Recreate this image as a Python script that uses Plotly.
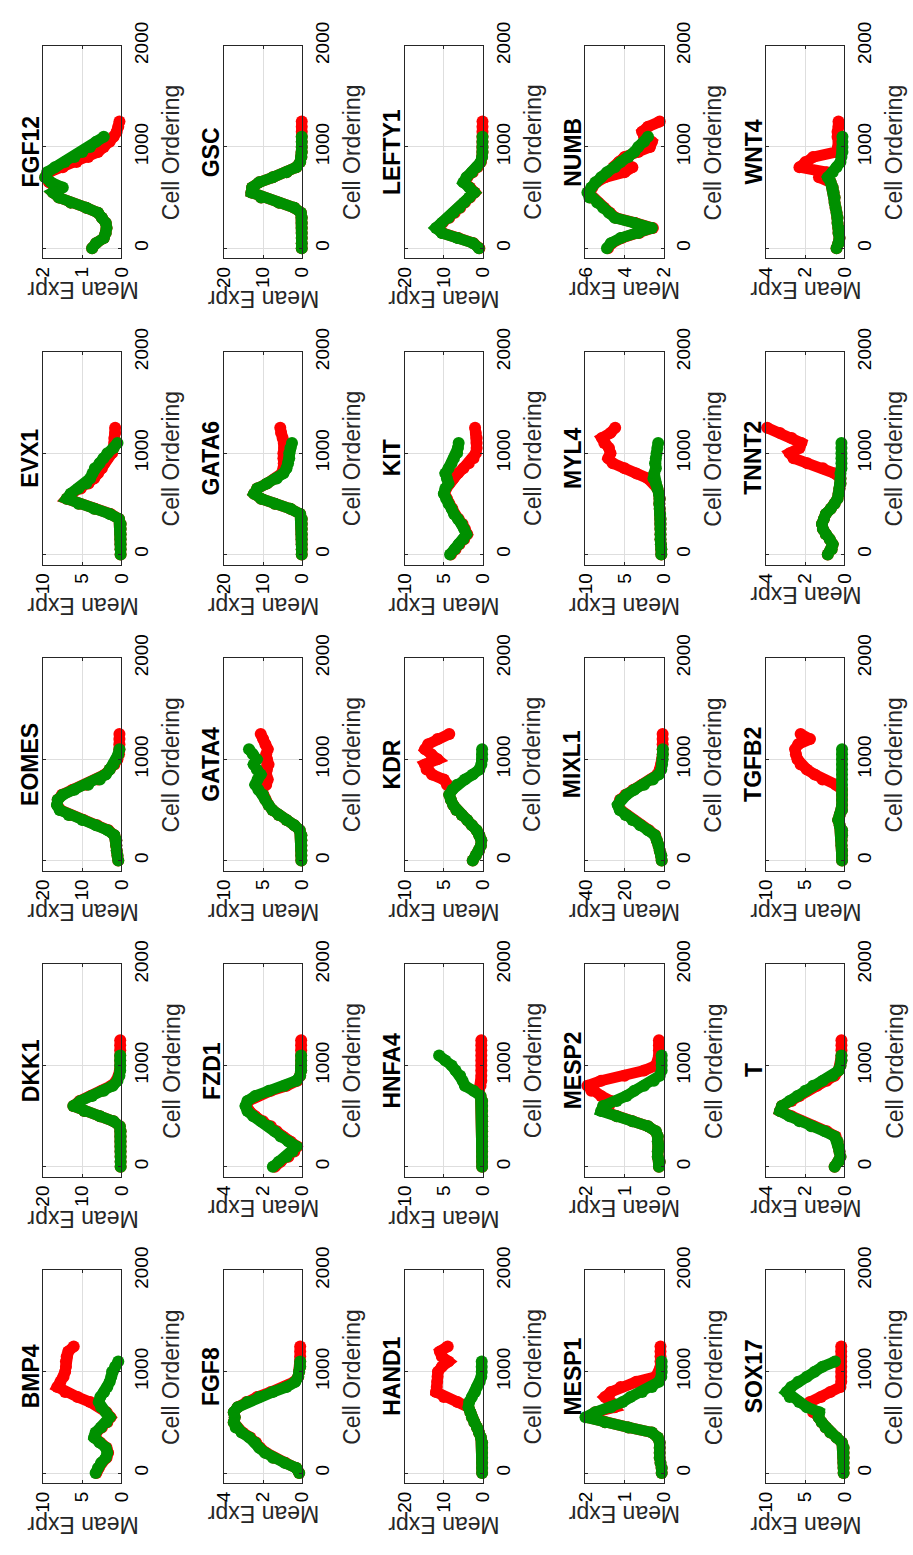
import plotly.graph_objects as go

W, H = 913, 1555

GENES = ["BMP4", "DKK1", "EOMES", "EVX1", "FGF12",
         "FGF8", "FZD1", "GATA4", "GATA6", "GSC",
         "HAND1", "HNFA4", "KDR", "KIT", "LEFTY1",
         "MESP1", "MESP2", "MIXL1", "MYL4", "NUMB",
         "SOX17", "T", "TGFB2", "TNNT2", "WNT4"]

Y_MIN = [0, 0, 0, 0, 0,
         0, 0, 0, 0, 0,
         0, 0, 0, 0, 0,
         0, 0, 0, 0, 2,
         0, 0, 0, 0, 0]
Y_MAX = [10, 20, 20, 10, 2,
         4, 4, 10, 20, 20,
         20, 10, 10, 10, 20,
         2, 2, 40, 10, 6,
         10, 4, 10, 4, 4]

CELL_TICKS = [0, 1000, 2000]

RED_POS = [0, 50, 100, 150, 200, 250, 300, 350, 400, 450, 500, 550, 600,
           650, 700, 750, 800, 850, 900, 950, 1000, 1050, 1100, 1150, 1200, 1250]
GREEN_POS = [0, 50, 100, 150, 200, 250, 300, 350, 400, 450, 500, 550, 600,
             650, 700, 750, 800, 850, 900, 950, 1000, 1050, 1100]

BMP4_R = [3.2, 2.9, 2.5, 1.9, 1.7, 1.9, 2.7, 3.4, 3.2, 2.5, 1.8, 1.4, 1.9, 2.7,
          4.0, 5.6, 7.2, 8.2, 7.8, 7.4, 7.2, 7.1, 7.1, 7.0, 6.8, 6.1]
BMP4_G = [3.3, 3.0, 2.6, 2.0, 1.8, 2.0, 2.8, 3.5, 3.3, 2.6, 1.9, 1.5, 2.0, 2.6,
          2.9, 2.7, 2.2, 1.8, 1.5, 1.3, 1.2, 0.8, 0.4]
DKK1_R = [0.2, 0.2, 0.2, 0.2, 0.2, 0.2, 0.2, 0.2, 0.4, 2.0, 5.5, 9.5, 12.3, 10.7,
          7.8, 5.0, 2.6, 1.3, 0.6, 0.4, 0.3, 0.3, 0.3, 0.3, 0.3, 0.3]
DKK1_G = [0.2, 0.2, 0.2, 0.2, 0.2, 0.2, 0.2, 0.2, 0.4, 2.0, 5.5, 9.5, 12.3, 10.5,
          7.5, 4.5, 2.2, 1.0, 0.5, 0.3, 0.3, 0.3, 0.3]
EOMES_R = [0.8, 1.0, 1.2, 1.3, 1.3, 1.8, 3.3, 6.2, 9.7, 13.2, 15.6, 16.4, 16.3,
           15.2, 12.5, 9.0, 6.0, 4.2, 3.0, 1.8, 1.0, 0.6, 0.5, 0.5, 0.5, 0.5]
EOMES_G = [0.8, 1.0, 1.2, 1.3, 1.3, 1.8, 3.5, 6.5, 10.0, 13.5, 15.8, 16.5, 16.3,
           15.0, 12.0, 8.5, 5.5, 4.0, 3.0, 2.0, 1.3, 0.8, 0.5]
EVX1_R = [0.1, 0.1, 0.1, 0.1, 0.1, 0.1, 0.1, 0.3, 1.4, 3.4, 5.4, 7.0, 6.4, 5.2,
          4.2, 3.5, 3.0, 2.5, 2.2, 1.8, 1.2, 1.0, 0.9, 0.9, 0.8, 0.8]
EVX1_G = [0.1, 0.1, 0.1, 0.1, 0.1, 0.1, 0.1, 0.3, 1.5, 3.5, 5.5, 7.0, 6.5, 5.5,
          4.5, 4.0, 3.7, 3.4, 2.8, 2.3, 1.8, 1.0, 0.5]
FGF12_R = [0.75, 0.65, 0.45, 0.4, 0.38, 0.4, 0.5, 0.6, 0.9, 1.3, 1.6, 1.75, 1.55,
           1.85, 1.95, 1.85, 1.5, 1.15, 0.85, 0.6, 0.45, 0.3, 0.2, 0.12, 0.08, 0.05]
FGF12_G = [0.75, 0.65, 0.45, 0.4, 0.38, 0.4, 0.5, 0.6, 0.9, 1.3, 1.6, 1.75, 1.5,
           1.8, 1.95, 1.9, 1.7, 1.45, 1.2, 1.0, 0.8, 0.65, 0.45]
FGF8_R = [0.15, 0.3, 0.85, 1.45, 1.85, 2.15, 2.35, 2.65, 3.05, 3.35, 3.5, 3.45,
          3.5, 3.3, 2.85, 2.3, 1.6, 0.9, 0.4, 0.2, 0.15, 0.1, 0.1, 0.1, 0.1, 0.1]
FGF8_G = [0.15, 0.3, 0.9, 1.5, 1.9, 2.2, 2.4, 2.7, 3.1, 3.4, 3.5, 3.45, 3.5, 3.3,
          2.8, 2.2, 1.5, 0.8, 0.35, 0.2, 0.15, 0.1, 0.1]
FZD1_R = [1.4, 1.1, 0.7, 0.4, 0.25, 0.6, 1.0, 1.3, 1.6, 2.0, 2.4, 2.7, 2.85, 2.75,
          2.3, 1.6, 0.8, 0.25, 0.1, 0.05, 0.05, 0.05, 0.05, 0.05, 0.05, 0.05]
FZD1_G = [1.5, 1.2, 0.8, 0.5, 0.3, 0.7, 1.1, 1.4, 1.7, 2.1, 2.5, 2.8, 2.9, 2.8,
          2.4, 1.7, 0.9, 0.3, 0.1, 0.05, 0.05, 0.05, 0.05]
GATA4_R = [0.1, 0.1, 0.1, 0.1, 0.1, 0.1, 0.3, 1.0, 2.0, 3.0, 3.8, 4.3, 4.7, 5.0,
           5.2, 4.6, 4.4, 4.6, 4.5, 4.3, 4.5, 4.6, 4.4, 4.7, 5.0, 5.3]
GATA4_G = [0.1, 0.1, 0.1, 0.1, 0.1, 0.1, 0.3, 1.0, 2.0, 3.0, 3.8, 4.3, 4.7, 5.0,
           5.6, 6.0, 5.7, 5.3, 5.8, 6.2, 5.8, 6.3, 6.8]
GATA6_R = [0.1, 0.1, 0.1, 0.1, 0.1, 0.1, 0.1, 0.1, 0.5, 3.0, 7.0, 10.5, 12.3,
           11.5, 9.0, 6.8, 5.2, 4.8, 4.7, 4.8, 4.8, 4.6, 4.7, 5.0, 5.4, 5.6]
GATA6_G = [0.1, 0.1, 0.1, 0.1, 0.1, 0.1, 0.1, 0.1, 0.5, 3.0, 7.0, 10.5, 12.3,
           11.5, 9.0, 6.5, 4.8, 4.0, 3.6, 3.3, 3.3, 3.0, 2.6]
GSC_R = [0.1, 0.1, 0.1, 0.1, 0.1, 0.1, 0.1, 0.3, 2.0, 6.0, 10.5, 13.0, 12.8, 11.0,
         7.5, 4.0, 1.5, 0.5, 0.2, 0.1, 0.1, 0.1, 0.1, 0.1, 0.1, 0.1]
GSC_G = [0.1, 0.1, 0.1, 0.1, 0.1, 0.1, 0.1, 0.3, 2.0, 6.0, 10.5, 13.0, 12.8, 11.0,
         7.5, 4.0, 1.5, 0.5, 0.2, 0.1, 0.1, 0.1, 0.1]
HAND1_R = [0.2, 0.2, 0.2, 0.2, 0.2, 0.2, 0.2, 0.5, 1.0, 1.5, 2.2, 2.8, 3.2, 3.7,
           6.5, 10.0, 12.0, 11.8, 11.7, 11.6, 11.5, 10.5, 8.8, 10.5, 11.0, 9.0]
HAND1_G = [0.2, 0.2, 0.2, 0.2, 0.2, 0.2, 0.2, 0.5, 1.0, 1.5, 2.2, 2.8, 3.2, 3.7,
           3.5, 2.8, 2.0, 1.5, 0.8, 0.4, 0.3, 0.3, 0.3]
HNFA4_R = [0.1, 0.1, 0.1, 0.1, 0.1, 0.1, 0.1, 0.1, 0.1, 0.1, 0.1, 0.1, 0.1, 0.1,
           0.3, 0.5, 0.3, 0.2, 0.2, 0.2, 0.2, 0.2, 0.2, 0.2, 0.2, 0.2]
HNFA4_G = [0.1, 0.1, 0.1, 0.1, 0.1, 0.1, 0.1, 0.1, 0.1, 0.1, 0.1, 0.1, 0.1, 0.1,
           0.3, 1.2, 2.3, 2.6, 2.9, 3.5, 4.0, 4.8, 5.6]
KDR_R = [1.3, 0.9, 0.5, 0.25, 0.2, 0.45, 0.8, 1.4, 2.0, 2.7, 3.4, 3.8, 4.1,
         4.3, 4.0, 4.6, 5.0, 6.5, 7.2, 7.4, 5.8, 6.6, 7.4, 7.0, 5.8, 4.3]
KDR_G = [1.3, 0.9, 0.5, 0.25, 0.2, 0.45, 0.8, 1.4, 2.0, 2.7, 3.4, 3.8, 4.1, 4.3,
         3.9, 3.3, 2.3, 1.3, 0.45, 0.2, 0.1, 0.1, 0.1]
KIT_R = [4.1, 3.5, 3.0, 2.4, 2.0, 2.3, 2.6, 3.1, 3.6, 3.9, 4.3, 4.6, 4.9, 4.7,
         4.3, 3.8, 3.2, 2.5, 1.8, 1.2, 0.9, 0.8, 0.8, 0.8, 0.9, 1.0]
KIT_G = [4.2, 3.6, 3.1, 2.5, 2.1, 2.4, 2.7, 3.2, 3.7, 4.0, 4.4, 4.7, 5.0, 4.8,
         4.4, 4.6, 4.8, 4.4, 4.0, 3.7, 3.3, 3.2, 3.1]
LEFTY1_R = [0.9, 2.4, 6.3, 10.3, 11.8, 10.3, 8.6, 7.2, 5.8, 4.6, 3.3, 2.1, 3.3,
            4.8, 4.0, 2.6, 1.4, 0.5, 0.2, 0.1, 0.1, 0.1, 0.1, 0.1, 0.1, 0.1]
LEFTY1_G = [1.0, 2.5, 6.5, 10.5, 12.0, 10.5, 8.8, 7.5, 6.0, 4.8, 3.5, 2.2, 3.5,
            5.0, 4.2, 2.8, 1.6, 0.6, 0.2, 0.1, 0.1, 0.1, 0.1]
MESP1_R = [0.05, 0.05, 0.08, 0.1, 0.1, 0.1, 0.1, 0.15, 0.3, 0.9, 1.5, 1.95, 1.75,
           1.25, 1.35, 1.5, 1.35, 1.1, 0.7, 0.2, 0.1, 0.08, 0.08, 0.08, 0.08, 0.08]
MESP1_G = [0.05, 0.05, 0.08, 0.1, 0.1, 0.1, 0.1, 0.15, 0.3, 0.9, 1.5, 2.0, 1.75,
           1.35, 1.05, 0.85, 0.55, 0.3, 0.12, 0.06, 0.05, 0.05, 0.05]
MESP2_R = [0.12, 0.1, 0.15, 0.15, 0.12, 0.15, 0.15, 0.2, 0.4, 0.8, 1.2, 1.55, 1.4,
           1.35, 1.6, 1.85, 1.95, 1.6, 1.0, 0.5, 0.2, 0.12, 0.12, 0.12, 0.12, 0.12]
MESP2_G = [0.12, 0.1, 0.15, 0.15, 0.12, 0.15, 0.15, 0.2, 0.4, 0.8, 1.2, 1.6, 1.55,
           1.2, 0.95, 0.75, 0.5, 0.25, 0.1, 0.05, 0.05, 0.05, 0.05]
MIXL1_R = [1.0, 1.2, 2.0, 2.6, 3.5, 4.3, 7.5, 11.5, 15.5, 19.0, 22.0, 23.3, 22.3,
           19.5, 15.5, 11.0, 6.5, 3.2, 2.0, 1.2, 0.7, 0.5, 0.5, 0.5, 0.5, 0.5]
MIXL1_G = [1.0, 1.2, 2.0, 2.6, 3.5, 4.5, 8.0, 12.0, 16.0, 19.5, 22.5, 23.5, 22.0,
           19.0, 15.0, 10.0, 5.5, 2.5, 1.2, 0.8, 0.5, 0.4, 0.4]
MYL4_R = [0.3, 0.3, 0.35, 0.4, 0.4, 0.4, 0.4, 0.4, 0.45, 0.5, 0.55, 0.5, 0.6, 0.8,
          1.2, 2.0, 3.5, 5.0, 6.5, 7.1, 6.8, 7.0, 7.6, 7.9, 6.8, 6.2]
MYL4_G = [0.3, 0.3, 0.35, 0.4, 0.4, 0.4, 0.4, 0.4, 0.45, 0.5, 0.55, 0.5, 0.6, 0.8,
          1.0, 1.3, 1.2, 1.0, 1.1, 1.0, 0.9, 0.8, 0.7]
NUMB_R = [4.85, 4.65, 4.15, 3.25, 2.55, 3.45, 4.45, 4.75, 5.05, 5.35, 5.75, 5.85,
          5.65, 5.45, 5.0, 4.0, 3.6, 4.3, 4.0, 3.3, 2.7, 2.6, 3.0, 3.1, 2.8, 2.2]
NUMB_G = [4.9, 4.7, 4.2, 3.3, 2.6, 3.5, 4.5, 4.8, 5.1, 5.4, 5.8, 5.9, 5.7, 5.5,
          5.2, 4.9, 4.5, 4.2, 3.8, 3.5, 3.3, 3.0, 2.8]
SOX17_R = [0.1, 0.1, 0.1, 0.1, 0.1, 0.1, 0.3, 1.0, 1.8, 2.4, 2.9, 3.3, 4.0, 4.4,
           4.4, 3.0, 1.8, 0.5, 0.4, 0.4, 0.4, 0.4, 0.4, 0.4, 0.4, 0.4]
SOX17_G = [0.1, 0.1, 0.1, 0.1, 0.1, 0.1, 0.3, 1.0, 1.8, 2.4, 2.9, 3.3, 3.2, 4.8,
           5.8, 7.0, 7.4, 6.8, 5.9, 4.8, 3.8, 2.8, 1.2]
T_R = [0.5, 0.3, 0.2, 0.25, 0.3, 0.35, 0.45, 0.9, 1.6, 2.2, 2.7, 3.3, 3.2, 2.7,
       2.3, 1.9, 1.4, 0.9, 0.5, 0.3, 0.2, 0.15, 0.15, 0.15, 0.15, 0.15]
T_G = [0.5, 0.3, 0.2, 0.25, 0.3, 0.35, 0.5, 1.0, 1.7, 2.3, 2.8, 3.3, 3.2, 2.8,
       2.4, 2.0, 1.6, 1.1, 0.6, 0.3, 0.2, 0.15, 0.15]
TGFB2_R = [0.3, 0.3, 0.3, 0.35, 0.35, 0.3, 0.3, 0.6, 0.8, 0.6, 0.3, 0.3, 0.3,
           0.3, 0.3, 1.1, 2.8, 3.8, 4.8, 5.6, 6.0, 6.2, 6.3, 5.9, 4.4, 5.6]
TGFB2_G = [0.3, 0.3, 0.3, 0.35, 0.35, 0.3, 0.3, 0.6, 0.8, 0.6, 0.3, 0.3, 0.3,
           0.3, 0.3, 0.3, 0.3, 0.3, 0.3, 0.3, 0.3, 0.3, 0.3]
TNNT2_R = [0.85, 0.65, 0.6, 0.75, 0.95, 1.1, 1.15, 1.05, 0.95, 0.7, 0.5, 0.35,
           0.3, 0.25, 0.2, 0.2, 0.5, 1.1, 1.9, 2.6, 2.8, 2.3, 2.2, 2.7, 3.3, 3.95]
TNNT2_G = [0.85, 0.65, 0.6, 0.75, 0.95, 1.1, 1.15, 1.05, 0.95, 0.7, 0.5, 0.35,
           0.3, 0.25, 0.2, 0.2, 0.2, 0.15, 0.15, 0.15, 0.15, 0.15, 0.15]
WNT4_R = [0.4, 0.3, 0.25, 0.3, 0.3, 0.35, 0.35, 0.4, 0.45, 0.5, 0.5, 0.55, 0.6,
          0.7, 1.3, 0.9, 2.3, 2.0, 1.6, 0.4, 0.3, 0.3, 0.35, 0.35, 0.3, 0.3]
WNT4_G = [0.4, 0.3, 0.25, 0.3, 0.3, 0.35, 0.35, 0.4, 0.45, 0.5, 0.5, 0.55, 0.6,
          0.7, 0.85, 0.6, 0.4, 0.2, 0.15, 0.1, 0.1, 0.1, 0.1]

RED_SERIES = [BMP4_R, DKK1_R, EOMES_R, EVX1_R, FGF12_R, FGF8_R, FZD1_R, GATA4_R,
              GATA6_R, GSC_R, HAND1_R, HNFA4_R, KDR_R, KIT_R, LEFTY1_R, MESP1_R,
              MESP2_R, MIXL1_R, MYL4_R, NUMB_R, SOX17_R, T_R, TGFB2_R, TNNT2_R, WNT4_R]
GREEN_SERIES = [BMP4_G, DKK1_G, EOMES_G, EVX1_G, FGF12_G, FGF8_G, FZD1_G, GATA4_G,
                GATA6_G, GSC_G, HAND1_G, HNFA4_G, KDR_G, KIT_G, LEFTY1_G, MESP1_G,
                MESP2_G, MIXL1_G, MYL4_G, NUMB_G, SOX17_G, T_G, TGFB2_G, TNNT2_G, WNT4_G]

RED = "#ff0000"
GREEN = "#009000"
AXC = "#262626"
GRID = "#dedede"
FONT = "Liberation Sans, Arial, Helvetica, sans-serif"

fig = go.Figure()
layout = dict(width=W, height=H, margin=dict(l=0, r=0, t=0, b=0, pad=0),
              autosize=False,
              paper_bgcolor="white", plot_bgcolor="white", showlegend=False,
              font=dict(family=FONT, color="black"))
annotations = []


def px_x(v):
    return v / W


def px_y(v):
    return 1 - v / H


for i, gene in enumerate(GENES):
    col_img = i // 5
    row_img = 4 - (i % 5)
    left = 33 + 185 * col_img
    right = left + 80
    top = 22 + 311 * row_img
    bottom = top + 216
    n = "" if i == 0 else str(i + 1)
    xa, ya = "x" + n, "y" + n

    for vals, pos, colr in ((RED_SERIES[i], RED_POS, RED), (GREEN_SERIES[i], GREEN_POS, GREEN)):
        fig.add_trace(go.Scatter(
            x=vals, y=pos, xaxis=xa, yaxis=ya, mode="lines+markers",
            line=dict(color=colr, width=11), marker=dict(color=colr, size=12),
            cliponaxis=False, hoverinfo="skip"))

    ymin, ymax = Y_MIN[i], Y_MAX[i]
    mid = (ymin + ymax) / 2
    tv = [ymin, mid, ymax]
    tt = [("%g" % t) for t in tv]
    layout["xaxis" + n] = dict(
        domain=[px_x(left), px_x(right)], anchor=ya, range=[ymax, ymin],
        tickvals=tv, ticktext=tt, tickangle=-90, ticks="inside", ticklen=3,
        tickcolor=AXC, showline=True, linecolor=AXC, linewidth=1, mirror="ticks",
        showgrid=True, gridcolor=GRID, zeroline=False,
        tickfont=dict(size=19, family=FONT, color="black"))
    layout["yaxis" + n] = dict(
        domain=[px_y(bottom), px_y(top)], anchor=xa, range=[-100, 2000],
        side="right", tickvals=CELL_TICKS, ticktext=[str(t) for t in CELL_TICKS],
        tickangle=-90, ticks="inside", ticklen=3, tickcolor=AXC, showline=True,
        linecolor=AXC, linewidth=1, mirror="ticks", showgrid=True,
        gridcolor=GRID, zeroline=False, ticklabelstandoff=3,
        tickfont=dict(size=19, family=FONT, color="black"))

    cy = (top + bottom) / 2
    annotations.append(dict(text="<b>%s</b>" % gene, x=px_x(left - 13), y=px_y(cy),
                            xref="paper", yref="paper", showarrow=False, textangle=-90,
                            xanchor="center", yanchor="middle",
                            font=dict(size=23, family=FONT, color="black")))
    annotations.append(dict(text="Cell Ordering", x=px_x(right + 51), y=px_y(cy),
                            xref="paper", yref="paper", showarrow=False, textangle=-90,
                            xanchor="center", yanchor="middle",
                            font=dict(size=23, family=FONT, color="#262626")))
    nch = max(len(t) for t in tt)
    annotations.append(dict(text="Mean Expr", x=px_x((left + right) / 2),
                            y=px_y(bottom + 8 + nch * 10.5 + 13),
                            xref="paper", yref="paper", showarrow=False, textangle=180,
                            xanchor="center", yanchor="middle",
                            font=dict(size=23, family=FONT, color="#262626")))

layout["annotations"] = annotations
fig.update_layout(**layout)
fig.write_html("out.html", config={"displayModeBar": False},
               post_script="document.body.style.margin='0';document.body.style.overflow='hidden';")
